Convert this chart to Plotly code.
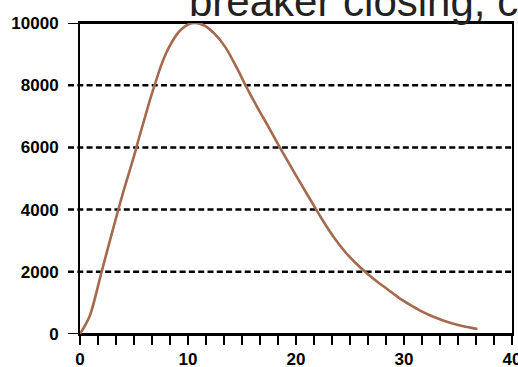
import plotly.graph_objects as go

# Data
x_vals = [0, 0.9, 2, 3, 4, 5, 5.5, 6, 6.5, 7, 7.5, 8, 8.5, 9, 9.5, 10, 10.7, 11.5, 12.5,
          13.5, 14.5, 15.5, 16.5, 17.5, 18.5, 19.5, 20.5, 21.5, 22.5, 23.5, 24.5, 25.5,
          26.5, 27.5, 28.5, 29.5, 30.5, 31.5, 32.5, 33.5, 34.5, 35.5, 36.8]
y_vals = [0, 580, 2000, 3300, 4560, 5720, 6350, 6950, 7550, 8100, 8620, 9050, 9380, 9650,
          9830, 9950, 10000, 9920, 9640, 9200, 8570, 7880, 7240, 6630, 6000, 5400, 4800,
          4220, 3640, 3110, 2660, 2290, 1970, 1690, 1430, 1170, 950, 750, 585, 450, 340,
          250, 160]

x_ticks = [0, 10, 20, 30, 40]
y_ticks = [0, 2000, 4000, 6000, 8000, 10000]
y_tick_text = ["0", "2000", "4000", "6000", "8000", "10000"]
title_text = "breaker closing, current"

W, H = 518, 367
ml, mr, mt, mb = 80, 6, 23, 33

fig = go.Figure()
fig.add_trace(go.Scatter(x=x_vals, y=y_vals, mode="lines",
                         line=dict(color="#A5694E", width=2.6, shape="spline", smoothing=0.8),
                         hoverinfo="skip"))

tickfont = dict(family="Liberation Sans, Arial", size=17, color="black", weight="bold")

fig.update_layout(
    width=W, height=H,
    margin=dict(l=ml, r=mr, t=mt, b=mb, pad=0),
    paper_bgcolor="white", plot_bgcolor="white",
    showlegend=False,
    xaxis=dict(range=[0, 40], tickvals=x_ticks, ticks="outside", ticklen=9, tickwidth=2,
               tickcolor="black", showline=True, linewidth=2, linecolor="black",
               mirror=True, showgrid=False, zeroline=False, tickfont=tickfont,
               automargin=False, ticklabeloverflow="allow",
               minor=dict(tick0=0, dtick=5/3, ticks="outside", ticklen=9, tickwidth=2,
                          tickcolor="black", showgrid=False)),
    yaxis=dict(range=[0, 10000], tickvals=y_ticks, ticktext=y_tick_text, ticks="outside",
               ticklen=12, tickwidth=2, tickcolor="rgba(0,0,0,0)", showline=True,
               linewidth=2, linecolor="black", mirror=True, showgrid=False,
               zeroline=False, tickfont=tickfont, ticklabelstandoff=4, automargin=False,
               ticklabeloverflow="allow"),
)

ext = -12 / (W - ml - mr)
shapes = []
for v in y_ticks:
    solid = v in (y_ticks[0], y_ticks[-1])
    shapes.append(dict(type="line", xref="paper", yref="y", x0=ext, x1=1, y0=v, y1=v,
                       line=dict(color="black", width=2.5 if not solid else 2,
                                 dash="solid" if solid else "6px,3.3px"),
                       layer="below"))
fig.update_layout(shapes=shapes)

fig.add_annotation(text=title_text, xref="paper", yref="paper",
                   x=(187 - ml) / (W - ml - mr), y=1, xanchor="left", yanchor="bottom",
                   yshift=-4, showarrow=False,
                   font=dict(family="Liberation Sans, Arial", size=42, color="#222222"))

fig.write_html("out.html", config={"displayModeBar": False},
               post_script="document.body.style.margin='0';document.body.style.overflow='hidden';")
